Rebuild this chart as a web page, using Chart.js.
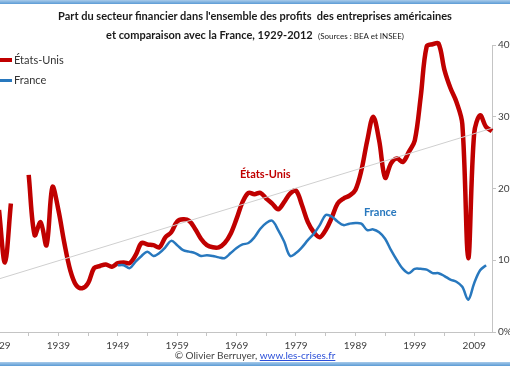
<!DOCTYPE html>
<html>
<head>
<meta charset="utf-8">
<script src="https://cdn.jsdelivr.net/npm/chart.js@4/dist/chart.umd.min.js"></script>
<style>
  html, body { margin: 0; padding: 0; background: #fff; }
  #frame { position: relative; width: 510px; height: 369px; overflow: hidden; background: #fff; font-family: Lato, "Open Sans", sans-serif; }
  #plot { position: absolute; left: -40px; top: 0; width: 570px; height: 369px; }
  .band { position: absolute; left: 0; width: 510px; height: 4px; background: linear-gradient(#a9cbea, #5b9bd5); }
  .txt { position: absolute; white-space: nowrap; }
  #title1 { left: 0; width: 510px; top: 9px; text-align: center; font-weight: bold; font-size: 11px; color: #1a1a1a; }
  #title2 { left: 0; width: 510px; top: 28px; text-align: center; font-weight: bold; font-size: 11px; color: #1a1a1a; }
  #title2 span { font-weight: normal; font-size: 8px; }
  .key { position: absolute; left: 0; width: 12px; }
  .legtxt { font-size: 11px; color: #333; }
  #credit { left: 0; width: 510px; top: 349px; text-align: center; font-size: 10px; color: #444; }
  #credit a { color: #2b4fd8; text-decoration: underline; }
</style>
</head>
<body>
<div id="frame">
  <div id="plot"><canvas id="chart"></canvas></div>
  <div class="band" style="top:0"></div>
  <div class="band" style="top:362px"></div>
  <div class="txt" id="title1">Part du secteur financier dans l'ensemble des profits&nbsp; des entreprises américaines</div>
  <div class="txt" id="title2">et comparaison avec la France, 1929-2012&nbsp; <span>(Sources : BEA et INSEE)</span></div>
  <div class="key" style="top:58px;height:4px;background:#c00000"></div>
  <div class="txt legtxt" style="left:14px;top:53px">États-Unis</div>
  <div class="key" style="top:79px;height:3px;background:#2878be"></div>
  <div class="txt legtxt" style="left:14px;top:73px">France</div>
  <div class="txt" style="left:240px;top:167px;font-size:11px;font-weight:bold;color:#c00000">États-Unis</div>
  <div class="txt" style="left:364px;top:205px;font-size:11px;font-weight:bold;color:#2878be">France</div>
  <div class="txt" id="credit">© Olivier Berruyer, <a>www.les-crises.fr</a></div>
</div>
<script>
// years of the US series (1929-2012)
const usYears = [1929,1930,1931,1932,1933,1934,1935,1936,1937,1938,1939,1940,1941,1942,1943,1944,1945,1946,1947,1948,
  1949,1950,1951,1952,1953,1954,1955,1956,1957,1958,1959,1960,1961,1962,1963,1964,1965,1966,1967,1968,
  1969,1970,1971,1972,1973,1974,1975,1976,1977,1978,1979,1980,1981,1982,1983,1984,1985,1986,1987,1988,
  1989,1990,1991,1992,1993,1994,1995,1996,1997,1998,1999,2000,2001,2002,2003,2004,2005,2006,2007,2008,
  2009,2010,2011,2012];

// share of financial sector in total profits, %
const usShare = [17.0,9.7,17.9,null,null,21.9,13.5,15.3,12.1,20.2,17.0,12.4,8.6,6.5,6.1,6.8,8.9,9.2,9.4,9.1,
  9.6,9.7,9.6,10.7,12.4,12.2,12.1,11.8,13.2,13.9,15.4,15.7,15.5,14.4,13.0,12.1,11.8,11.8,12.4,13.7,
  15.8,18.1,19.4,19.2,19.4,18.6,17.9,17.1,18.1,19.3,19.7,17.7,15.3,13.9,13.2,14.2,15.9,17.9,18.6,19.0,
  19.8,22.5,26.7,30.0,26.7,21.5,23.5,24.2,23.7,25.1,26.7,32.8,39.8,40.1,40.2,36.5,34.0,32.1,29.0,10.3,
  27.7,30.2,28.6,28.0];

const frYears = [1949,1950,1951,1952,1953,1954,1955,1956,1957,1958,1959,1960,1961,1962,1963,1964,1965,1966,1967,1968,
  1969,1970,1971,1972,1973,1974,1975,1976,1977,1978,1979,1980,1981,1982,1983,1984,1985,1986,1987,1988,
  1989,1990,1991,1992,1993,1994,1995,1996,1997,1998,1999,2000,2001,2002,2003,2004,2005,2006,2007,2008,
  2009,2010,2011];

const frShare = [9.3,9.3,8.9,9.8,10.6,11.2,10.6,11.0,11.8,12.7,12.1,11.4,11.2,11.0,10.6,10.7,10.6,10.4,10.3,11.0,
  11.7,12.2,12.4,13.2,14.4,15.2,15.5,14.2,12.6,10.6,11.0,11.8,12.8,13.7,14.9,16.3,16.1,15.4,14.9,15.1,
  15.2,15.1,14.2,14.3,13.9,13.0,11.4,10.0,8.8,8.2,8.8,8.8,8.7,8.2,8.2,7.8,7.3,7.0,6.3,4.5,
  6.8,8.6,9.3];

// linear trend drawn on the chart
const trendYears = [1929, 2012];
const trendShare = [7.4, 28.4];

const xTicks = [1929,1934,1939,1944,1949,1954,1959,1964,1969,1974,1979,1984,1989,1994,1999,2004,2009];
const yTicks = [0, 10, 20, 30, 40];

function pts(xs, ys) {
  return xs.map((x, i) => ({ x: x, y: ys[i] }));
}

const axisGray = '#c4c4c4';

new Chart(document.getElementById('chart'), {
  type: 'line',
  data: {
    datasets: [
      { label: 'tendance', data: pts(trendYears, trendShare), borderColor: '#cfcfcf', borderWidth: 1, pointRadius: 0, tension: 0 },
      { label: 'France', data: pts(frYears, frShare), borderColor: '#2878be', borderWidth: 2.5, pointRadius: 0, tension: 0.35 },
      { label: 'États-Unis', data: pts(usYears, usShare), borderColor: '#c00000', borderWidth: 4.5, pointRadius: 0, tension: 0.35, spanGaps: false, clip: 6 },
    ],
  },
  options: {
    responsive: true,
    maintainAspectRatio: false,
    animation: false,
    layout: { padding: { left: 39, right: 8, top: 45, bottom: 17 } },
    plugins: { legend: { display: false }, tooltip: { enabled: false } },
    scales: {
      x: {
        type: 'linear',
        min: 1929,
        max: 2012,
        afterBuildTicks: scale => { scale.ticks = xTicks.map(v => ({ value: v })); },
        afterFit: scale => { scale.height = 20; },
        ticks: {
          autoSkip: false,
          maxRotation: 0,
          padding: 4,
          color: '#404040',
          font: { family: 'Lato', size: 10 },
          callback: v => ((v - 1929) % 10 === 0 ? String(v) : ''),
        },
        grid: { drawOnChartArea: false, tickLength: 4, color: axisGray },
        border: { color: axisGray },
      },
      y: {
        position: 'right',
        min: 0,
        max: 40,
        afterBuildTicks: scale => { scale.ticks = yTicks.map(v => ({ value: v })); },
        afterFit: scale => { scale.width = 30; },
        ticks: {
          padding: 2,
          color: '#404040',
          font: { family: 'Lato', size: 10 },
          callback: v => v + '%',
        },
        grid: { drawOnChartArea: false, tickLength: 4, color: axisGray },
        border: { color: axisGray },
      },
    },
  },
});
</script>
</body>
</html>
